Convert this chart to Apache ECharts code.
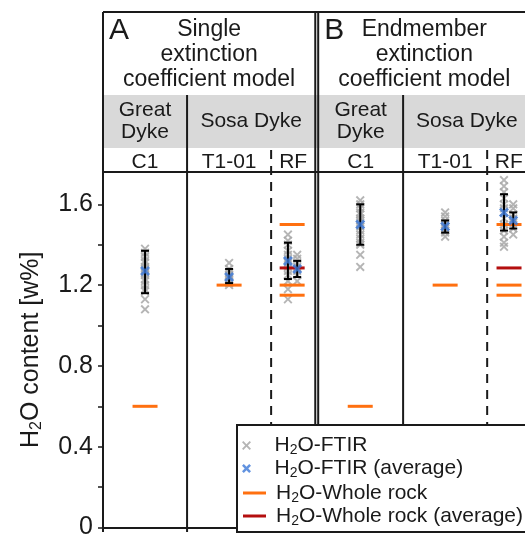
<!DOCTYPE html>
<html>
<head>
<meta charset="utf-8">
<script src="https://cdn.jsdelivr.net/npm/echarts@6/dist/echarts.min.js"></script>
<style>
  html, body { margin: 0; padding: 0; background: #fff; }
  #chart { width: 525px; height: 540px; }
</style>
</head>
<body>
<div id="chart"></div>
<script>
// FTIR columns: panel A (single coefficient) then panel B (endmember), x in column units
const columnNames = ['A C1', 'A T1-01', 'A RF 1', 'A RF 2', 'B C1', 'B T1-01', 'B RF 1', 'B RF 2'];
const columnX = [0.5, 1.5, 2.2, 2.31, 3.06, 4.07, 4.77, 4.88];
const ftirPoints = [
  [1.38, 1.36, 1.34, 1.32, 1.31, 1.29, 1.28, 1.27, 1.26, 1.25, 1.23, 1.22, 1.2, 1.18, 1.17, 1.13, 1.08],
  [1.31, 1.28, 1.26, 1.25, 1.24, 1.23, 1.22, 1.21, 1.2],
  [1.45, 1.42, 1.4, 1.37, 1.35, 1.33, 1.31, 1.29, 1.27, 1.25, 1.22, 1.18, 1.13],
  [1.35, 1.33, 1.31, 1.29, 1.27, 1.25, 1.22],
  [1.62, 1.6, 1.58, 1.56, 1.55, 1.53, 1.52, 1.51, 1.5, 1.49, 1.47, 1.45, 1.43, 1.41, 1.4, 1.35, 1.29],
  [1.56, 1.54, 1.52, 1.5, 1.49, 1.48, 1.47, 1.46, 1.44],
  [1.72, 1.69, 1.66, 1.63, 1.6, 1.58, 1.56, 1.53, 1.5, 1.47, 1.44, 1.41, 1.39],
  [1.6, 1.58, 1.55, 1.53, 1.51, 1.48, 1.45]
];
const ftirMean = [1.27, 1.24, 1.32, 1.28, 1.5, 1.49, 1.56, 1.52];
const ftirLow = [1.16, 1.21, 1.23, 1.24, 1.4, 1.46, 1.47, 1.48];
const ftirHigh = [1.37, 1.28, 1.41, 1.32, 1.6, 1.52, 1.65, 1.56];

// whole rock values
const rockX = [0.5, 1.5, 2.25, 2.25, 2.25, 3.06, 4.07, 4.83, 4.83, 4.83];
const rockValues = [0.6, 1.2, 1.5, 1.2, 1.15, 0.6, 1.2, 1.5, 1.2, 1.15];
const rockAvgX = [2.25, 4.83];
const rockAvgValues = [1.285, 1.285];

const yLabelValues = [0, 0.4, 0.8, 1.2, 1.6];
const yTickValues = [0, 0.2, 0.4, 0.6, 0.8, 1.0, 1.2, 1.4, 1.6];

// header blocks (in x-axis units)
const panels = [
  { letter: 'A', title: ['Single', 'extinction', 'coefficient model'], from: 0, to: 2.525 },
  { letter: 'B', title: ['Endmember', 'extinction', 'coefficient model'], from: 2.56, to: 5.085 }
];
const groupCells = [
  { text: ['Great', 'Dyke'], from: 0, to: 1 }, { text: ['Sosa Dyke'], from: 1, to: 2.525 },
  { text: ['Great', 'Dyke'], from: 2.56, to: 3.57 }, { text: ['Sosa Dyke'], from: 3.57, to: 5.085 }
];
const sampleCells = [
  { text: 'C1', from: 0, to: 1 }, { text: 'T1-01', from: 1, to: 2 }, { text: 'RF', from: 2, to: 2.525 },
  { text: 'C1', from: 2.56, to: 3.57 }, { text: 'T1-01', from: 3.57, to: 4.57 }, { text: 'RF', from: 4.57, to: 5.085 }
];
const solidDividers = [1, 3.57];
const dashedDividers = [2, 4.57];
const panelEdges = [2.525, 2.56];

const FONT = '"Liberation Sans", Arial, sans-serif';
const INK = '#1a1a1a';
const crossPath = 'path://M1.5,0L5,3.5L8.5,0L10,1.5L6.5,5L10,8.5L8.5,10L5,6.5L1.5,10L0,8.5L3.5,5L0,1.5Z';
const boldCross = 'path://M2,0L5,3L8,0L10,2L7,5L10,8L8,10L5,7L2,10L0,8L3,5L0,2Z';

const grayPts = [];
ftirPoints.forEach((list, i) => list.forEach(v => grayPts.push([columnX[i], v])));
const meanPts = ftirMean.map((v, i) => [columnX[i], v]);
const errPts = ftirLow.map((v, i) => [columnX[i], v, ftirHigh[i]]);
const rockPts = rockValues.map((v, i) => [rockX[i], v]);
const rockAvgPts = rockAvgValues.map((v, i) => [rockAvgX[i], v]);

function hLine(params, api) {
  const p = api.coord([api.value(0), api.value(1)]);
  return {
    type: 'line',
    shape: { x1: p[0] - 12.5, y1: p[1], x2: p[0] + 12.5, y2: p[1] },
    style: { stroke: api.visual('color'), lineWidth: 3 }
  };
}

function errBar(params, api) {
  const x = api.value(0);
  const lo = api.coord([x, api.value(1)]);
  const hi = api.coord([x, api.value(2)]);
  const st = { stroke: '#000', lineWidth: 2 };
  return {
    type: 'group',
    children: [
      { type: 'line', shape: { x1: lo[0], y1: lo[1], x2: hi[0], y2: hi[1] }, style: st },
      { type: 'line', shape: { x1: lo[0] - 4, y1: lo[1], x2: lo[0] + 4, y2: lo[1] }, style: st },
      { type: 'line', shape: { x1: hi[0] - 4, y1: hi[1], x2: hi[0] + 4, y2: hi[1] }, style: st }
    ]
  };
}

function legendRich(gap) {
  return {
    g: { width: gap, fontSize: 21, fontFamily: FONT, lineHeight: 24 },
    n: { fontSize: 21, fontFamily: FONT, color: INK, lineHeight: 24 },
    s: { fontSize: 14, fontFamily: FONT, color: INK, lineHeight: 14, verticalAlign: 'bottom' }
  };
}
const legendFmt = name => '{g| }{n|H}{s|2}{n|' + name.slice(2) + '}';

const chart = echarts.init(document.getElementById('chart'));
chart.setOption({
  animation: false,
  backgroundColor: '#fff',
  grid: { left: 103, right: 0, top: 172, bottom: 8 },
  xAxis: {
    type: 'value', min: 0, max: 5.02,
    axisLine: { show: true, lineStyle: { color: INK, width: 2 } },
    axisTick: { show: false }, axisLabel: { show: false }, splitLine: { show: false }
  },
  yAxis: {
    type: 'value', min: 0, max: 1.76,
    name: '{n|H}{s|2}{n|O content [w%]}',
    nameLocation: 'middle', nameRotate: 90, nameGap: 58,
    nameTextStyle: {
      rich: {
        n: { fontSize: 25, fontFamily: FONT, color: INK, lineHeight: 28 },
        s: { fontSize: 16, fontFamily: FONT, color: INK, lineHeight: 16, verticalAlign: 'bottom' }
      }
    },
    axisLine: { show: true, lineStyle: { color: INK, width: 2 } },
    axisTick: { show: true, length: 5, customValues: yTickValues, lineStyle: { color: INK, width: 1.5 } },
    axisLabel: {
      customValues: yLabelValues, margin: 10, fontSize: 25, fontFamily: FONT, color: INK,
      formatter: v => (v === 0 ? '0' : v.toFixed(1))
    },
    splitLine: { show: false }
  },
  legend: [
    {
      orient: 'vertical', left: 242, top: 435, z: 60,
      itemWidth: 22, itemHeight: 9, itemGap: 0.5, padding: 0,
      data: ['H2O-FTIR', 'H2O-FTIR (average)'],
      formatter: legendFmt, textStyle: { rich: legendRich(12) }
    },
    {
      orient: 'vertical', left: 243, top: 482.5, z: 60,
      itemWidth: 23, itemHeight: 3, itemGap: 0.5, padding: 0,
      data: [{ name: 'H2O-Whole rock', icon: 'rect' }, { name: 'H2O-Whole rock (average)', icon: 'rect' }],
      formatter: legendFmt, textStyle: { rich: legendRich(5) }
    }
  ],
  series: [
    {
      name: 'H2O-FTIR', type: 'scatter', z: 2, data: grayPts,
      symbol: crossPath, symbolSize: 9,
      itemStyle: { color: '#a8a8a8', opacity: 0.85 }
    },
    {
      name: 'H2O-Whole rock', type: 'custom', z: 3, data: rockPts,
      renderItem: hLine, itemStyle: { color: '#ff7010' }
    },
    {
      name: 'H2O-Whole rock (average)', type: 'custom', z: 3, data: rockAvgPts,
      renderItem: hLine, itemStyle: { color: '#b40f0f' }
    },
    {
      name: 'FTIR error', type: 'custom', z: 4, data: errPts, renderItem: errBar
    },
    {
      name: 'H2O-FTIR (average)', type: 'scatter', z: 5, data: meanPts,
      symbol: boldCross, symbolSize: 10,
      itemStyle: { color: '#3b78d8' }
    }
  ]
});

// header + frame drawn from axis units
const px = u => chart.convertToPixel({ xAxisIndex: 0 }, u);
const yTop = 12, yBand0 = 95, yBand1 = 148, yPlot = 172, yBottom = 532;
const xLeft = px(0), xRight = 525;

function text(str, x, y, size, align) {
  return {
    type: 'text', z: 30,
    style: {
      text: str, x: x, y: y, font: size + 'px ' + FONT, fill: INK,
      align: align || 'center', verticalAlign: 'middle',
      textAlign: align || 'center', textVerticalAlign: 'middle'
    }
  };
}
function line(x1, y1, x2, y2, dash) {
  return {
    type: 'line', z: 20,
    shape: { x1: x1, y1: y1, x2: x2, y2: y2 },
    style: { stroke: INK, lineWidth: 2, lineDash: dash || null }
  };
}

const els = [];
els.push({ type: 'rect', z: 10, shape: { x: xLeft, y: yBand0, width: xRight - xLeft, height: yBand1 - yBand0 }, style: { fill: '#d9d9d9' } });
els.push(line(xLeft, yTop, xRight, yTop));
els.push(line(xLeft, yPlot, xRight, yPlot));
els.push(line(xLeft, yTop, xLeft, yBottom));
panelEdges.forEach(u => els.push(line(px(u), yTop, px(u), yBottom)));
solidDividers.forEach(u => els.push(line(px(u), yBand0, px(u), yBottom)));
dashedDividers.forEach(u => els.push(line(px(u), 150, px(u), 425, [9, 7])));

panels.forEach(p => {
  const cx = (px(p.from) + px(p.to)) / 2;
  els.push(text(p.letter, px(p.from) + 6, 31, 30, 'left'));
  p.title.forEach((t, i) => els.push(text(t, cx, 30 + i * 25, 23)));
});
groupCells.forEach(c => {
  const cx = (px(c.from) + px(c.to)) / 2;
  if (c.text.length === 2) {
    els.push(text(c.text[0], cx, 110, 21));
    els.push(text(c.text[1], cx, 132, 21));
  } else {
    els.push(text(c.text[0], cx, 121, 21));
  }
});
sampleCells.forEach(c => els.push(text(c.text, (px(c.from) + px(c.to)) / 2, 162, 21)));

// legend box
els.push({
  type: 'rect', z: 50,
  shape: { x: 237, y: 425, width: 300, height: yBottom - 425 },
  style: { fill: '#fff', stroke: INK, lineWidth: 2 }
});

chart.setOption({ graphic: { elements: els } });
</script>
</body>
</html>
